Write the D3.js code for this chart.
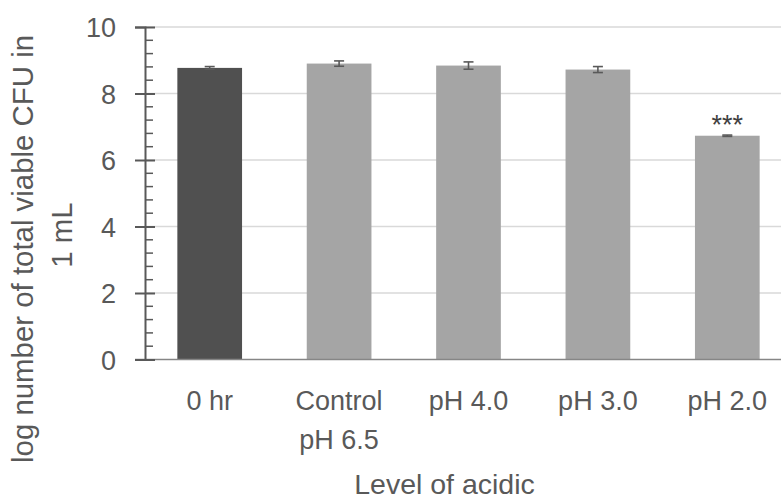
<!DOCTYPE html>
<html>
<head>
<meta charset="utf-8">
<script src="https://cdn.jsdelivr.net/npm/d3@7"></script>
<style>
  html, body { margin: 0; padding: 0; background: #fff; }
  svg { display: block; font-family: "Liberation Sans", Arial, sans-serif; }
</style>
</head>
<body>
<svg id="chart" width="781" height="499"></svg>
<script>
const categories = ["0 hr", "Control\npH 6.5", "pH 4.0", "pH 3.0", "pH 2.0"];
const values = [8.77, 8.90, 8.84, 8.72, 6.73];
const errors = [0.04, 0.08, 0.11, 0.09, 0.02];
const significance = ["", "", "", "", "***"];
const barColors = ["#505050", "#a5a5a5", "#a5a5a5", "#a5a5a5", "#a5a5a5"];
const yTicks = [0, 2, 4, 6, 8, 10];
const yMinorTicks = d3.range(0, 10.001, 0.4);
const yTitleLines = ["log number of total viable CFU in", "1 mL"];
const xTitle = "Level of acidic";

const svg = d3.select("#chart");
const textColor = "#595959";

const x = d3.scaleBand().domain(categories).range([145, 792]).paddingInner(0.5).paddingOuter(0.25);
const y = d3.scaleLinear().domain([0, 10]).range([359.5, 27]);

// gridlines
svg.append("g").selectAll("line").data(yTicks.filter(d => d > 0)).join("line")
  .attr("x1", 145).attr("x2", 781)
  .attr("y1", d => y(d)).attr("y2", d => y(d))
  .attr("stroke", "#d9d9d9").attr("stroke-width", 1.3);

// bars
svg.append("g").selectAll("rect").data(values).join("rect")
  .attr("x", (d, i) => x(categories[i]))
  .attr("width", x.bandwidth())
  .attr("y", d => y(d))
  .attr("height", d => y(0) - y(d))
  .attr("fill", (d, i) => barColors[i]);

// error bars
const eb = svg.append("g").attr("stroke", "#595959").attr("stroke-width", 1.6);
values.forEach((v, i) => {
  const cx = x(categories[i]) + x.bandwidth() / 2;
  const e = errors[i];
  eb.append("line").attr("x1", cx).attr("x2", cx).attr("y1", y(v + e)).attr("y2", y(v - e));
  eb.append("line").attr("x1", cx - 5).attr("x2", cx + 5).attr("y1", y(v + e)).attr("y2", y(v + e));
  eb.append("line").attr("x1", cx - 5).attr("x2", cx + 5).attr("y1", y(v - e)).attr("y2", y(v - e));
});

// significance
svg.append("g").selectAll("text").data(significance).join("text")
  .attr("x", (d, i) => x(categories[i]) + x.bandwidth() / 2)
  .attr("y", (d, i) => y(values[i] + errors[i]) - 1.5)
  .attr("text-anchor", "middle")
  .attr("font-size", 27)
  .attr("fill", "#404040")
  .text(d => d);

// x axis baseline
svg.append("line").attr("x1", 135).attr("x2", 781).attr("y1", y(0)).attr("y2", y(0))
  .attr("stroke", "#868686").attr("stroke-width", 1.5);

// y axis
const yAxis = d3.axisLeft(y).tickValues(yTicks).tickSize(10).tickPadding(19).tickFormat(d3.format("d"));
const ya = svg.append("g").attr("transform", "translate(145,0)").call(yAxis);
ya.select(".domain").attr("stroke", "#595959").attr("stroke-width", 2);
ya.selectAll(".tick line").attr("stroke", "#595959").attr("stroke-width", 2).attr("x2", -10).attr("x1", 10);
ya.selectAll(".tick text").attr("font-size", 27).attr("fill", textColor).attr("font-family", "Liberation Sans, Arial, sans-serif").attr("dy", "0.36em");
// minor ticks
svg.append("g").selectAll("line").data(yMinorTicks.filter(d => Math.abs(d / 2 - Math.round(d / 2)) > 1e-6)).join("line")
  .attr("x1", 145).attr("x2", 153)
  .attr("y1", d => y(d)).attr("y2", d => y(d))
  .attr("stroke", "#595959").attr("stroke-width", 1.5);

// x labels
const xl = svg.append("g");
categories.forEach(c => {
  const cx = x(c) + x.bandwidth() / 2;
  const t = xl.append("text").attr("x", cx).attr("y", 410).attr("text-anchor", "middle")
    .attr("font-size", 27).attr("fill", textColor);
  c.split("\n").forEach((line, j) => {
    t.append("tspan").attr("x", cx).attr("y", 410 + j * 39).text(line);
  });
});

// x title
svg.append("text").attr("x", 444.5).attr("y", 494).attr("text-anchor", "middle")
  .attr("font-size", 28.5).attr("fill", textColor).text(xTitle);

// y title
yTitleLines.forEach((line, j) => {
  svg.append("text")
    .attr("transform", `translate(${33 + j * 39},${j === 0 ? 249 : 235}) rotate(-90)`)
    .attr("text-anchor", "middle")
    .attr("font-size", 29.4).attr("fill", textColor)
    .text(line);
});
</script>
</body>
</html>
